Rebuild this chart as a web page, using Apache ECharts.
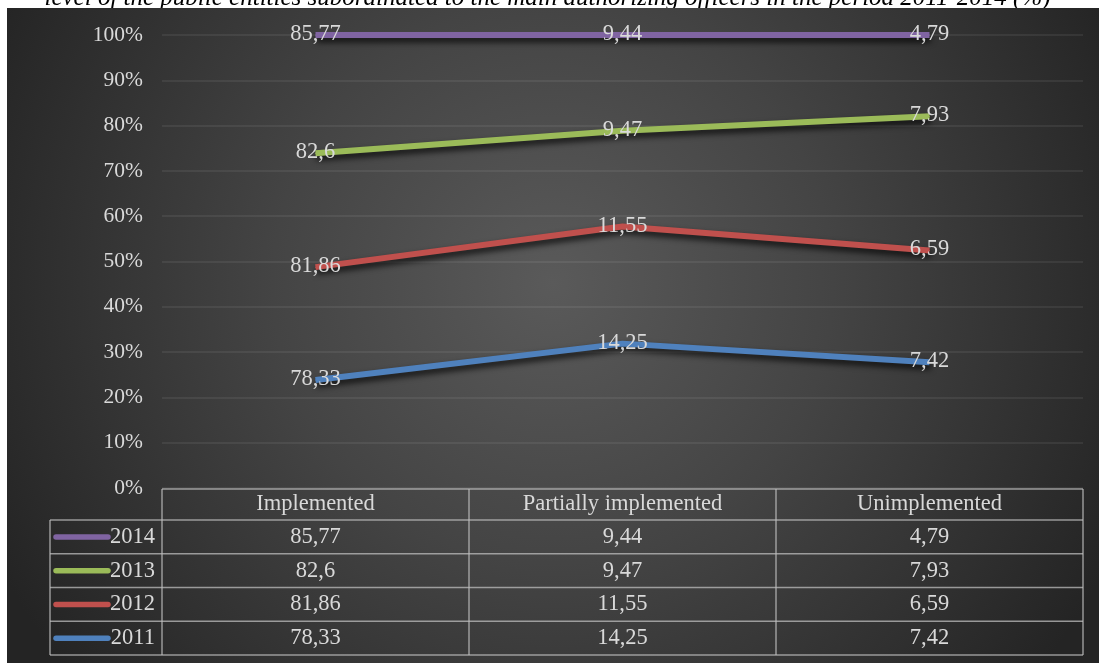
<!DOCTYPE html>
<html>
<head>
<meta charset="utf-8">
<script src="https://cdn.jsdelivr.net/npm/echarts@6/dist/echarts.min.js"></script>
<style>
html,body{margin:0;padding:0;background:#ffffff;}
#main{width:1099px;height:663px;}
</style>
</head>
<body>
<div id="main"></div>
<script>
// ---- data ----
const titleText = 'level of the public entities subordinated to the main authorizing officers in the period 2011-2014 (%)';
const categories = ['Implemented', 'Partially implemented', 'Unimplemented'];
const years = ['2011', '2012', '2013', '2014'];
const values2011 = [78.33, 14.25, 7.42];
const values2012 = [81.86, 11.55, 6.59];
const values2013 = [82.6, 9.47, 7.93];
const values2014 = [85.77, 9.44, 4.79];
const seriesColors = ['#4f81bd', '#c0504d', '#9bbb59', '#8064a2'];
const yTickInterval = 10;

const allValues = [values2011, values2012, values2013, values2014];
const FONT = '"Liberation Serif", "Times New Roman", serif';
const TXT = '#d9d9d9';

// 100% stacked: share of each value in its category total
const totals = categories.map((c, i) => allValues.reduce((s, arr) => s + arr[i], 0));
const fmt = v => String(v).replace('.', ',');

const chart = echarts.init(document.getElementById('main'), null, {renderer: 'canvas'});

const series = years.map((y, k) => ({
  name: y,
  type: 'line',
  stack: 'total',
  data: allValues[k].map((v, i) => v / totals[i] * 100),
  symbol: 'circle',
  symbolSize: 1,
  showSymbol: true,
  itemStyle: {color: seriesColors[k]},
  lineStyle: {
    width: 6,
    color: seriesColors[k],
    shadowColor: 'rgba(0,0,0,0.8)',
    shadowBlur: 6,
    shadowOffsetX: 1,
    shadowOffsetY: 4
  },
  label: {
    show: true,
    position: 'inside',
    offset: [0, -1],
    color: TXT,
    fontFamily: FONT,
    fontSize: 22.5,
    formatter: p => fmt(allValues[k][p.dataIndex])
  },
  emphasis: {disabled: true},
  z: 3 + k
}));

chart.setOption({
  animation: false,
  textStyle: {fontFamily: FONT},
  grid: {left: 162, right: 16, top: 35, bottom: 175, containLabel: false},
  xAxis: {
    type: 'category',
    data: categories,
    boundaryGap: true,
    axisLine: {show: false},
    axisTick: {show: false},
    axisLabel: {show: false},
    splitLine: {show: false}
  },
  yAxis: {
    type: 'value',
    min: 0,
    max: 100,
    interval: yTickInterval,
    axisLine: {show: false},
    axisTick: {show: false},
    axisLabel: {
      formatter: '{value}%',
      color: TXT,
      fontFamily: FONT,
      fontSize: 21.5,
      margin: 19
    },
    splitLine: {lineStyle: {color: 'rgba(255,255,255,0.09)', width: 1.5}}
  },
  series: series
});

// ---- background, title and data table (laid out from the grid) ----
const rect = chart.getModel().getComponent('grid').coordinateSystem.getRect();
const W = chart.getWidth(), H = chart.getHeight();
const band = rect.width / categories.length;
const tableTop = rect.y + rect.height + 1;
const headerH = 31;
const rowH = 33.75;
const legendLeft = 50;
const borderColor = 'rgba(190,190,190,0.75)';
const rowsTopDown = years.slice().reverse();

const g = [];
g.push({
  type: 'text', z: -20, silent: true,
  style: {
    text: titleText, x: W / 2 - 2, y: -2, align: 'center', verticalAlign: 'middle',
    font: 'italic 25px ' + FONT, fill: '#000'
  }
});
g.push({
  type: 'rect', z: -10, silent: true,
  shape: {x: 7, y: 8, width: W - 7, height: H - 8},
  style: {
    fill: {
      type: 'radial', x: 0.5, y: 0.42, r: 0.95,
      colorStops: [
        {offset: 0, color: '#5a5a5a'},
        {offset: 0.45, color: '#444444'},
        {offset: 1, color: '#242424'}
      ]
    }
  }
});

function hline(x1, x2, y) {
  g.push({type: 'line', silent: true, z: 10, shape: {x1, y1: y, x2, y2: y},
    style: {stroke: borderColor, lineWidth: 1.5}});
}
function vline(x, y1, y2) {
  g.push({type: 'line', silent: true, z: 10, shape: {x1: x, y1, x2: x, y2},
    style: {stroke: borderColor, lineWidth: 1.5}});
}
function txt(t, x, y, align) {
  g.push({type: 'text', silent: true, z: 11,
    style: {text: t, x, y, align: align || 'center', verticalAlign: 'middle',
      font: '22.5px ' + FONT, fill: TXT}});
}

const tableRight = rect.x + rect.width;
const bodyTop = tableTop + headerH;
const tableBottom = bodyTop + rowH * years.length;
// header
hline(rect.x, tableRight, tableTop);
for (let c = 0; c <= categories.length; c++) {
  vline(rect.x + band * c, tableTop, tableBottom);
}
categories.forEach((c) => {
  const cx = chart.convertToPixel({xAxisIndex: 0}, c);
  txt(c, cx, tableTop + headerH / 2);
});
// body
hline(legendLeft, tableRight, bodyTop);
vline(legendLeft, bodyTop, tableBottom);
rowsTopDown.forEach((y, r) => {
  const k = years.indexOf(y);
  const top = bodyTop + rowH * r;
  const cy = top + rowH / 2;
  hline(legendLeft, tableRight, top + rowH);
  g.push({type: 'line', silent: true, z: 11,
    shape: {x1: legendLeft + 6, y1: cy, x2: legendLeft + 58, y2: cy},
    style: {stroke: seriesColors[k], lineWidth: 5.5, lineCap: 'round'}});
  txt(y, rect.x - 7, cy, 'right');
  categories.forEach((c, i) => {
    const cx = chart.convertToPixel({xAxisIndex: 0}, c);
    txt(fmt(allValues[k][i]), cx, cy);
  });
});

chart.setOption({graphic: {elements: g}});
</script>
</body>
</html>
